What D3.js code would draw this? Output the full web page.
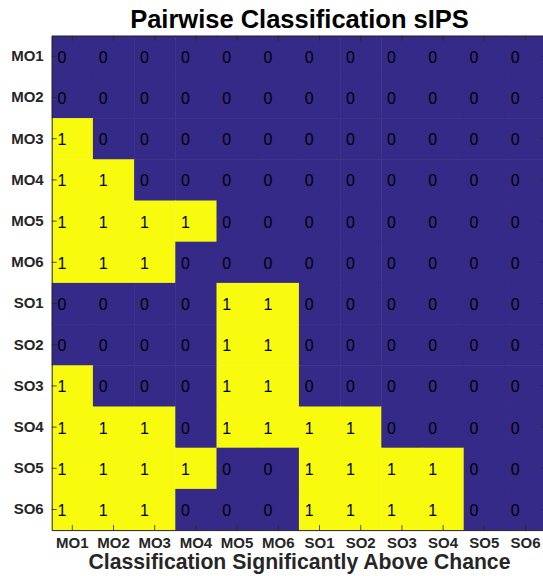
<!DOCTYPE html>
<html>
<head>
<meta charset="utf-8">
<script src="https://cdn.jsdelivr.net/npm/d3@7"></script>
<style>
  body { margin: 0; background: #fff; }
  svg { display: block; font-family: "Liberation Sans", Arial, Helvetica, sans-serif; }
</style>
</head>
<body>
<svg id="chart" width="543" height="576"></svg>
<script>
// row / column labels
const rowLabels = ["MO1", "MO2", "MO3", "MO4", "MO5", "MO6", "SO1", "SO2", "SO3", "SO4", "SO5", "SO6"];
const colLabels = ["MO1", "MO2", "MO3", "MO4", "MO5", "MO6", "SO1", "SO2", "SO3", "SO4", "SO5", "SO6"];

// 1 = classification significantly above chance
const matrix = [
    [0, 0, 0, 0, 0, 0, 0, 0, 0, 0, 0, 0],
    [0, 0, 0, 0, 0, 0, 0, 0, 0, 0, 0, 0],
    [1, 0, 0, 0, 0, 0, 0, 0, 0, 0, 0, 0],
    [1, 1, 0, 0, 0, 0, 0, 0, 0, 0, 0, 0],
    [1, 1, 1, 1, 0, 0, 0, 0, 0, 0, 0, 0],
    [1, 1, 1, 0, 0, 0, 0, 0, 0, 0, 0, 0],
    [0, 0, 0, 0, 1, 1, 0, 0, 0, 0, 0, 0],
    [0, 0, 0, 0, 1, 1, 0, 0, 0, 0, 0, 0],
    [1, 0, 0, 0, 1, 1, 0, 0, 0, 0, 0, 0],
    [1, 1, 1, 0, 1, 1, 1, 1, 0, 0, 0, 0],
    [1, 1, 1, 1, 0, 0, 1, 1, 1, 1, 0, 0],
    [1, 1, 1, 0, 0, 0, 1, 1, 1, 1, 0, 0]
];

const svg = d3.select("#chart");
const plotLeft = 51.7, plotTop = 35.7, cell = 41.2;
const w = cell * colLabels.length, h = cell * rowLabels.length;

const x = d3.scaleBand().domain(colLabels).range([plotLeft, plotLeft + w]);
const y = d3.scaleBand().domain(rowLabels).range([plotTop, plotTop + h]);
const color = d3.scaleOrdinal().domain([0, 1]).range(["#352a87", "#f9fb0e"]);

const cells = [];
matrix.forEach((row, i) => row.forEach((v, j) => cells.push({r: rowLabels[i], c: colLabels[j], v: v})));

// heat cells
svg.append("g").selectAll("rect")
    .data(cells)
    .join("rect")
    .attr("x", d => x(d.c))
    .attr("y", d => y(d.r))
    .attr("width", x.bandwidth() + 0.5)
    .attr("height", y.bandwidth() + 0.5)
    .attr("fill", d => color(d.v));

// cell values (left aligned just left of the cell centre, like MATLAB text())
svg.append("g").selectAll("text")
    .data(cells)
    .join("text")
    .attr("x", d => x(d.c) + x.bandwidth() / 2 - 14.8)
    .attr("y", d => y(d.r) + y.bandwidth() / 2 + 6.4)
    .attr("font-size", "16px")
    .attr("fill", "#000")
    .text(d => d.v);

// axes (MATLAB style: inward ticks on all four sides)
const axisColor = "#262626";
const tickLen = 5;
const axG = svg.append("g");

axG.append("g")
    .attr("transform", `translate(0,${plotTop + h})`)
    .call(d3.axisBottom(x).tickSizeInner(-tickLen).tickSizeOuter(0).tickPadding(7))
    .call(g => g.selectAll("text").attr("font-size", "15px").attr("font-weight", "bold")
        .attr("fill", axisColor));

axG.append("g")
    .attr("transform", `translate(0,${plotTop})`)
    .call(d3.axisTop(x).tickSizeInner(-tickLen).tickSizeOuter(0).tickFormat(""));

axG.append("g")
    .attr("transform", `translate(${plotLeft},0)`)
    .call(d3.axisLeft(y).tickSizeInner(-tickLen).tickSizeOuter(0).tickPadding(8))
    .call(g => g.selectAll("text").attr("font-size", "15px").attr("font-weight", "bold")
        .attr("fill", axisColor).attr("dy", "0.32em"));

axG.append("g")
    .attr("transform", `translate(${plotLeft + w},0)`)
    .call(d3.axisRight(y).tickSizeInner(-tickLen).tickSizeOuter(0).tickFormat(""));

axG.selectAll(".domain").attr("stroke", axisColor).attr("stroke-width", 1);
axG.selectAll(".tick line").attr("stroke", axisColor).attr("stroke-width", 0.8);
axG.selectAll("g").attr("font-family", null);

// title and axis label
svg.append("text")
    .attr("x", 299.5)
    .attr("y", 27.5)
    .attr("text-anchor", "middle")
    .attr("font-size", "25.5px")
    .attr("font-weight", "bold")
    .attr("fill", "#000")
    .text("Pairwise Classification sIPS");

svg.append("text")
    .attr("x", 299.5)
    .attr("y", 569)
    .attr("text-anchor", "middle")
    .attr("font-size", "21.2px")
    .attr("font-weight", "bold")
    .attr("fill", axisColor)
    .text("Classification Significantly Above Chance");
</script>
</body>
</html>
